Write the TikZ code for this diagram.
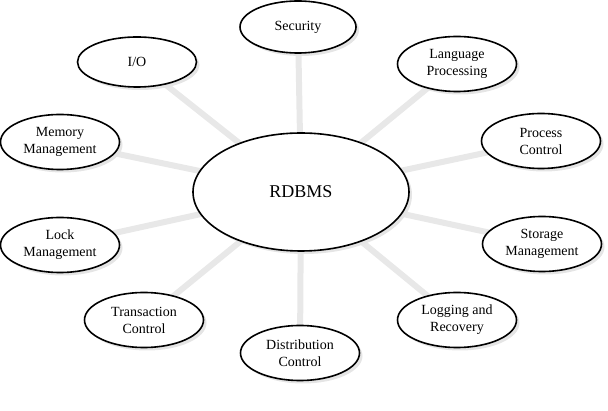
\documentclass[tikz,border=0pt]{standalone}
\usepackage{fontspec}
\setmainfont{Liberation Serif}
\usepackage{tikz}
\usetikzlibrary{shapes.geometric,shadows,backgrounds}

\tikzset{
    unit/.style={ellipse, draw, line width=1.6pt, fill=white, inner sep=0pt,
        minimum width=119pt, minimum height=55pt, align=center,
        font=\fontsize{14}{17}\selectfont,
        drop shadow={shadow xshift=3pt, shadow yshift=-3pt, fill=black!10, opacity=1}},
    core/.style={unit, minimum width=216pt, minimum height=118pt,
        font=\fontsize{18}{20}\selectfont},
    spoke/.style={line width=6pt, draw=black!9}
}

\begin{document}
\begin{tikzpicture}[x=1pt,y=-1pt]
    \useasboundingbox (0,0) rectangle (608,411);

    % Central engine
    \node[core] (rdbms) at (301,192) {RDBMS};

    % Surrounding modules
    \node[unit, minimum width=116pt, minimum height=52pt] (security) at (298,27) {Security};
    \node[unit, minimum height=50pt] (io) at (137,62) {I/O};
    \node[unit] (lang) at (457,64) {Language\\Processing};
    \node[unit] (proc) at (541,141) {Process\\Control};
    \node[unit] (mem) at (60,142) {Memory\\Management};
    \node[unit] (stor) at (542,244) {Storage\\Management};
    \node[unit] (lock) at (60,245) {Lock\\Management};
    \node[unit] (logrec) at (457,320) {Logging and\\Recovery};
    \node[unit] (trans) at (144,320) {Transaction\\Control};
    \node[unit] (dist) at (300,353) {Distribution\\Control};

    % Spokes
    \begin{scope}[on background layer]
        \foreach \m in {security,io,lang,proc,mem,stor,lock,logrec,trans,dist}
            \draw[spoke] (rdbms.center) -- (\m.center);
    \end{scope}
\end{tikzpicture}
\end{document}
